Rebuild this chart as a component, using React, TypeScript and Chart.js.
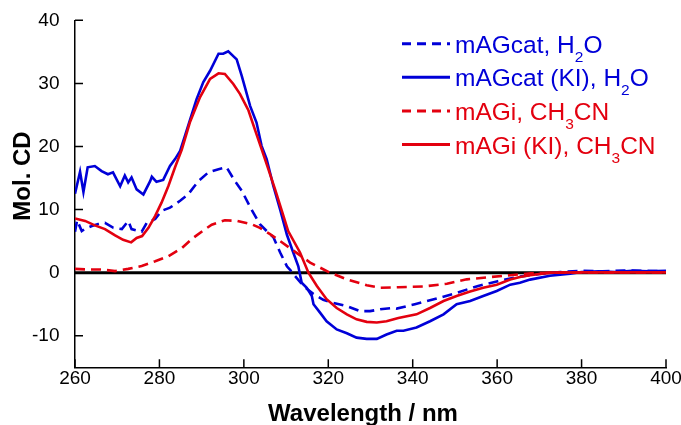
import React, { useEffect, useRef } from 'react';
import { Chart, registerables } from 'chart.js';

Chart.register(...registerables);

// ---- data ----
const blueDashedNm = [260, 260.5, 261.6, 262.5, 264, 265.5, 267.1, 269.1, 271.1, 272.6, 273.4, 275.8, 277, 279, 280.5, 282.5, 284.9, 286.8, 289.2, 291.6, 294, 295.9, 297.9, 299.5, 301.8, 303.8, 305.4, 307, 308.6, 310.2, 310.9, 312.1, 314.1, 316.5, 318.8, 321.2, 324.4, 327.5, 329.9, 332.3, 335.4, 336.2, 340.5, 345.7, 350.4, 355.5, 359.9, 364.6, 370, 375, 380, 385, 390, 395, 400];
const blueDashedCd = [6.5, 8.3, 6.6, 7.0, 7.4, 7.7, 7.9, 7.1, 6.9, 8.2, 6.9, 6.5, 7.9, 8.5, 9.8, 10.3, 11.4, 12.4, 14.5, 15.9, 16.4, 16.7, 14.5, 13.0, 10.0, 7.7, 6.6, 5.6, 3.2, 1.0, 0.5, -0.5, -2.1, -3.4, -4.3, -4.8, -5.3, -6.1, -6.1, -5.8, -5.6, -5.7, -5.0, -4.1, -3.2, -2.1, -1.4, -0.7, -0.2, 0.1, 0.3, 0.2, 0.35, 0.3, 0.2];

const blueSolidNm = [260, 261.2, 262, 263, 264.7, 266.3, 267.8, 269, 270.7, 271.8, 272.6, 273.4, 274.6, 276.2, 277.8, 278.2, 279.3, 280.9, 282.5, 283.7, 284.9, 286.1, 288.8, 290.4, 292, 294, 295.1, 296.3, 298.3, 299.5, 301.5, 303, 304.2, 305.4, 307, 308.6, 310.2, 311.7, 312.9, 313.7, 314.9, 316.1, 316.5, 318, 319.6, 322, 324.4, 326.7, 329.1, 331.5, 333.8, 336.2, 337.8, 340.9, 344.1, 347.3, 350.4, 353.6, 356.7, 359.9, 363.1, 365.4, 367.8, 372.5, 377.3, 380, 384, 388, 392, 396, 400];
const blueSolidCd = [12.5, 16.0, 12.8, 16.7, 16.9, 16.1, 15.6, 15.9, 13.7, 15.4, 14.3, 15.1, 13.2, 12.4, 14.5, 15.2, 14.4, 14.7, 16.9, 18.0, 19.3, 21.8, 27.5, 30.2, 32.0, 34.7, 34.7, 35.1, 33.8, 31.2, 26.4, 23.8, 20.1, 18.0, 13.7, 10.0, 6.0, 3.2, 1.0, -1.6, -2.4, -3.7, -5.0, -6.3, -7.7, -9.0, -9.6, -10.3, -10.5, -10.5, -9.8, -9.2, -9.2, -8.7, -7.7, -6.6, -5.0, -4.5, -3.7, -2.9, -1.9, -1.6, -1.1, -0.5, -0.15, 0.1, 0.2, 0.1, 0.3, 0.2, 0.3];

const redDashedNm = [260, 263.2, 266.3, 269.5, 272.6, 275.8, 279, 282.1, 285.3, 287.6, 290.2, 292.4, 295.5, 298.5, 301.7, 303.8, 306.2, 308.6, 310.7, 315.7, 320.4, 324.4, 329.1, 332.3, 336.6, 342.5, 348.1, 352.8, 358.3, 363.1, 368, 375, 385, 400];
const redDashedCd = [0.6, 0.5, 0.5, 0.25, 0.6, 1.05, 1.8, 2.6, 3.9, 5.3, 6.6, 7.6, 8.3, 8.2, 7.7, 7.1, 6.1, 5.0, 4.0, 1.6, 0.0, -1.06, -2.0, -2.4, -2.3, -2.2, -1.75, -1.06, -0.7, -0.4, -0.1, 0.0, 0.05, 0.05];

const redSolidNm = [260, 262.4, 264.7, 267.1, 269.5, 271.4, 273.3, 274.6, 275.9, 277.4, 279, 280.5, 282.1, 283.7, 285.3, 287.2, 289.6, 292, 294, 295.5, 297.5, 299.1, 301.1, 302.6, 304.2, 305.8, 307.4, 309, 310.5, 313.3, 315.3, 317.3, 319.6, 322, 324.4, 326.7, 329.1, 331.5, 333.8, 336.6, 340.9, 344.1, 347.3, 350.4, 353.6, 356.7, 359.9, 363.1, 365.4, 367.8, 372.5, 380, 390, 400];
const redSolidCd = [8.6, 8.2, 7.5, 6.9, 5.9, 5.2, 4.8, 5.5, 5.8, 7.1, 9.0, 11.1, 13.7, 16.7, 19.5, 23.8, 27.8, 30.7, 31.6, 31.5, 29.9, 28.3, 25.7, 22.7, 19.6, 16.4, 13.2, 9.8, 6.6, 3.2, 0.0, -2.1, -4.2, -5.6, -6.6, -7.4, -7.8, -7.9, -7.7, -7.2, -6.6, -5.6, -4.5, -3.7, -3.0, -2.4, -1.9, -1.1, -0.7, -0.4, 0.0, 0.05, 0.05, 0.05];

const zeroNm = [260, 400];
const zeroCd = [0, 0];

const xTicks = [260, 280, 300, 320, 340, 360, 380, 400];
const yTicks = [-10, 0, 10, 20, 30, 40];

const xTitle = 'Wavelength / nm';
const yTitle = 'Mol. CD';

// legend text segments: [text, isSubscript]
const legendParts: [string, boolean][][] = [
  [['mAGcat, H', false], ['2', true], ['O', false]],
  [['mAGcat (KI), H', false], ['2', true], ['O', false]],
  [['mAGi, CH', false], ['3', true], ['CN', false]],
  [['mAGi (KI), CH', false], ['3', true], ['CN', false]],
];

const BLUE = '#0000d8';
const RED = '#e3000f';
const FONT = '"Liberation Sans", Arial, Helvetica, sans-serif';
const DASH = [10, 6];

const legendStyles = [
  { color: BLUE, dashed: true },
  { color: BLUE, dashed: false },
  { color: RED, dashed: true },
  { color: RED, dashed: false },
];

const pts = (xs: number[], ys: number[]) => xs.map((x, i) => ({ x, y: ys[i] }));

export default function App() {
  const ref = useRef<HTMLCanvasElement>(null);

  useEffect(() => {
    if (!ref.current) return;

    const innerTicks = {
      id: 'innerTicks',
      afterDraw(chart: any) {
        const { ctx, chartArea, scales } = chart;
        ctx.save();
        ctx.strokeStyle = '#000';
        ctx.lineWidth = 1.5;
        ctx.beginPath();
        xTicks.forEach((v) => {
          const px = scales.x.getPixelForValue(v);
          ctx.moveTo(px, chartArea.bottom);
          ctx.lineTo(px, chartArea.bottom - 8);
        });
        yTicks.forEach((v) => {
          const py = scales.y.getPixelForValue(v);
          ctx.moveTo(chartArea.left, py);
          ctx.lineTo(chartArea.left + 8, py);
        });
        ctx.stroke();
        ctx.restore();
      },
    };

    const titles = {
      id: 'axisTitles',
      afterDraw(chart: any) {
        const { ctx } = chart;
        ctx.save();
        ctx.fillStyle = '#000';
        ctx.font = `bold 24px ${FONT}`;
        ctx.textAlign = 'center';
        ctx.textBaseline = 'alphabetic';
        ctx.fillText(xTitle, 363, 420.5);
        ctx.translate(30, 176);
        ctx.rotate(-Math.PI / 2);
        ctx.fillText(yTitle, 0, 0);
        ctx.restore();
      },
    };

    const customLegend = {
      id: 'customLegend',
      afterDraw(chart: any) {
        const { ctx } = chart;
        ctx.save();
        legendParts.forEach((parts, i) => {
          const st = legendStyles[i];
          const base = 52.7 + i * 33.6;
          const ly = base - 9;
          ctx.strokeStyle = st.color;
          ctx.lineWidth = 3;
          ctx.setLineDash(st.dashed ? [9, 6] : []);
          ctx.beginPath();
          ctx.moveTo(402, ly);
          ctx.lineTo(450, ly);
          ctx.stroke();
          ctx.setLineDash([]);
          ctx.fillStyle = st.color;
          ctx.textAlign = 'left';
          ctx.textBaseline = 'alphabetic';
          let x = 455;
          parts.forEach(([t, sub]) => {
            ctx.font = sub ? `15.5px ${FONT}` : `24.5px ${FONT}`;
            ctx.fillText(t, x, sub ? base + 9 : base);
            x += ctx.measureText(t).width;
          });
        });
        ctx.restore();
      },
    };

    const chart = new Chart(ref.current, {
      type: 'line',
      data: {
        datasets: [
          { label: 'mAGi (KI), CH3CN', data: pts(redSolidNm, redSolidCd), borderColor: RED, borderWidth: 2.6, pointRadius: 0, fill: false },
          { label: 'mAGi, CH3CN', data: pts(redDashedNm, redDashedCd), borderColor: RED, borderWidth: 2.6, borderDash: DASH, pointRadius: 0, fill: false },
          { label: 'mAGcat (KI), H2O', data: pts(blueSolidNm, blueSolidCd), borderColor: BLUE, borderWidth: 2.6, pointRadius: 0, fill: false },
          { label: 'mAGcat, H2O', data: pts(blueDashedNm, blueDashedCd), borderColor: BLUE, borderWidth: 2.6, borderDash: DASH, pointRadius: 0, fill: false },
          { label: 'zero', data: pts(zeroNm, zeroCd), borderColor: '#000', borderWidth: 3, pointRadius: 0, fill: false },
        ],
      },
      options: {
        responsive: false,
        animation: false,
        events: [],
        layout: { padding: { top: 20.3, right: 15, left: 0, bottom: 0 } },
        scales: {
          x: {
            type: 'linear',
            min: 260,
            max: 400,
            afterBuildTicks: (s: any) => { s.ticks = xTicks.map((v) => ({ value: v })); },
            afterFit: (s: any) => { s.height = 57.7; s.paddingLeft = 0; s.paddingRight = 0; },
            grid: { display: false, drawTicks: false },
            border: { display: true, color: '#000', width: 1.5 },
            ticks: { color: '#000', font: { family: FONT, size: 19 }, padding: 0, maxRotation: 0, autoSkip: false },
          },
          y: {
            type: 'linear',
            min: -15,
            max: 40,
            afterBuildTicks: (s: any) => { s.ticks = yTicks.map((v) => ({ value: v })); },
            afterFit: (s: any) => { s.width = 75; s.paddingTop = 0; s.paddingBottom = 0; },
            grid: { display: false, drawTicks: false },
            border: { display: true, color: '#000', width: 1.5 },
            ticks: { color: '#000', font: { family: FONT, size: 19 }, padding: 15.5, autoSkip: false },
          },
        },
        plugins: {
          legend: { display: false },
          tooltip: { enabled: false },
          title: { display: false },
        },
      },
      plugins: [innerTicks, titles, customLegend],
    } as any);

    return () => chart.destroy();
  }, []);

  return (
    <div style={{ position: 'fixed', left: 0, top: 0, width: 681, height: 425, background: '#fff' }}>
      <canvas ref={ref} width={681} height={425} style={{ display: 'block', width: 681, height: 425 }} />
    </div>
  );
}
